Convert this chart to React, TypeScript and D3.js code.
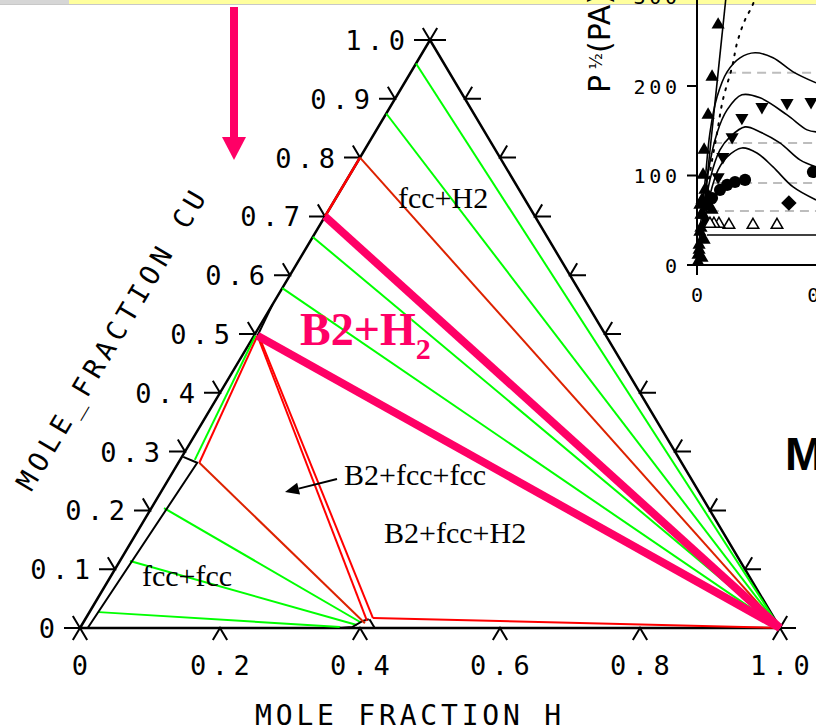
import React from 'react';
import * as d3 from 'd3';

type Pt = [number, number];

// ---------- Ternary data: points are [H fraction, Cu fraction] ----------
const H_CORNER: Pt = [1, 0];
const B2_POINT: Pt = [0.005, 0.497];
const upperGreenCu = [0.96, 0.875, 0.665, 0.578];
const pinkTieStarts: Pt[] = [[0, 0.70], B2_POINT];
const redEdgeSegment: Pt[] = [[0, 0.7], [0, 0.8]];
const darkRedLines: Pt[][] = [
  [[0, 0.8], H_CORNER],
  [[0.030, 0.281], [0.403, 0.008]],
];
const brightRedLines: Pt[][] = [
  [B2_POINT, [0.030, 0.281]],
  [B2_POINT, [0.404, 0.012]],
  [[0.007, 0.497], [0.410, 0.017]],
  [[0.410, 0.017], H_CORNER],
];
const lowerGreenLines: Pt[][] = [
  [[0.002, 0.497], [0.021, 0.286]],
  [[0.018, 0.204], [0.395, 0.0102]],
  [[0.0144, 0.114], [0.393, 0.005]],
  [[0.0136, 0.027], [0.371, 0.0017]],
];
const blackBoundaries: Pt[][] = [
  [[0.011, 0], [0.027, 0.281], [0.002, 0.291]],
  [B2_POINT, [0, 0.55]],
  [[0.371, 0], [0.388, 0.0017], [0.398, 0.012], [0.405, 0.015]],
  [[0.406, 0.015], [0.421, 0]],
];
const sideTicks = [0, 0.1, 0.2, 0.3, 0.4, 0.5, 0.6, 0.7, 0.8, 0.9, 1.0];
const sideTickLabels = ['0', '0.1', '0.2', '0.3', '0.4', '0.5', '0.6', '0.7', '0.8', '0.9', '1.0'];
const bottomTicks = [0, 0.2, 0.4, 0.6, 0.8, 1.0];
const bottomTickLabels = ['0', '0.2', '0.4', '0.6', '0.8', '1.0'];

// ---------- Inset data: [x, P^1/2] ----------
const insetCurves: Pt[][] = [
  [[0.004, 3.4], [0.011, 35.8], [0.030, 91.7], [0.049, 147.6], [0.076, 187.9], [0.114, 215.8], [0.163, 231.5], [0.220, 237.1], [0.288, 231.5], [0.364, 215.8], [0.451, 203.5]],
  [[0.004, 3.4], [0.019, 39.1], [0.042, 102.9], [0.076, 147.6], [0.114, 173.3], [0.170, 190.1], [0.239, 186.8], [0.341, 167.7], [0.417, 151.0], [0.451, 148.7]],
  [[0.004, 3.4], [0.023, 44.7], [0.049, 95.1], [0.087, 128.6], [0.125, 143.1], [0.182, 154.3], [0.239, 148.7], [0.314, 136.4], [0.390, 117.4], [0.451, 109.6]],
  [[0.004, 3.4], [0.023, 41.4], [0.049, 78.3], [0.080, 106.2], [0.114, 120.8], [0.170, 130.8], [0.227, 125.2], [0.288, 109.6], [0.364, 87.2], [0.451, 72.7]],
];
const dottedCurve: Pt[] = [[0.008, 16.8], [0.027, 55.9], [0.049, 102.9], [0.076, 147.6], [0.098, 184.5], [0.133, 221.4], [0.152, 248.3], [0.182, 274.0], [0.208, 288.5], [0.222, 300]];
const steepLine: Pt[] = [[0.004, 0], [0.110, 300]];
const solidLevel: Pt[] = [[0.038, 33.5], [0.46, 33.5]];
const dashedLevels = [214.7, 136.4, 91.7, 60.4];
const dashedStarts = [0.114, 0.061, 0.061, 0.049];
const upTriangles: Pt[] = [
  [0.080, 268.4], [0.057, 210.2], [0.042, 167.7], [0.027, 128.6], [0.023, 100.6], [0.019, 72.7], [0.015, 55.9], [0.011, 36.9], [0.008, 22.4], [0.004, 11.2],
  [0.011, 67.1], [0.023, 55.9], [0.034, 48.1], [0.015, 41.4], [0.027, 28.0], [0.008, 16.8], [0.019, 7.8], [0.004, 3.4], [0.045, 72.7], [0.030, 83.9], [0.057, 61.5],
];
const downTriangles: Pt[] = [[0.170, 164.5], [0.133, 143.1], [0.098, 120.8], [0.080, 98.4], [0.057, 76.0], [0.246, 176.7], [0.341, 181.2], [0.432, 182.3]];
const circles: Pt[] = [[0.182, 95.1], [0.144, 92.8], [0.114, 89.5], [0.087, 83.9], [0.057, 74.9], [0.034, 67.1], [0.439, 104.0]];
const diamonds: Pt[] = [[0.348, 69.3]];
const openTriangles: Pt[] = [[0.303, 44.7], [0.212, 44.7], [0.121, 44.7], [0.083, 45.9], [0.064, 45.9], [0.049, 45.9]];
const insetYTicks = [0, 100, 200, 300];
const insetYLabels = ['0', '100', '200', '300'];
const insetXTicks = [0, 0.5];
const insetXLabels = ['0', '0.5'];

const PINK = '#ff0066';
const GREEN = '#00ff00';
const RED = '#ff0000';
const DARKRED = '#dd2200';
const MONO = '"DejaVu Sans Mono", monospace';
const SERIF = '"Liberation Serif", "Times New Roman", serif';

export default function App() {
  const tx = d3.scaleLinear().domain([0, 1]).range([80, 780]);
  const ty = d3.scaleLinear().domain([0, 1]).range([628, 40]);
  const proj = (p: Pt): Pt => [tx(p[0] + p[1] / 2), ty(p[1])];
  const tline = d3.line<Pt>().x((p) => proj(p)[0]).y((p) => proj(p)[1]);

  const ix = d3.scaleLinear().domain([0, 0.5]).range([697, 829]);
  const iy = d3.scaleLinear().domain([0, 300]).range([265, -3.5]);
  const iline = d3.line<Pt>().x((p) => ix(p[0])).y((p) => iy(p[1]));
  const icurve = d3.line<Pt>().x((p) => ix(p[0])).y((p) => iy(p[1])).curve(d3.curveCatmullRom);

  const triSym = d3.symbol().type(d3.symbolTriangle).size(75)() as string;
  const openTriSym = d3.symbol().type(d3.symbolTriangle).size(58)() as string;
  const circSym = d3.symbol().type(d3.symbolCircle).size(115)() as string;
  const sqSym = d3.symbol().type(d3.symbolSquare).size(120)() as string;

  const TL = 16; // horizontal tick length
  const DL = 14; // diagonal tick length
  const dx = 0.512 * DL, dy = 0.859 * DL;

  const ls = 5.5;

  // arrow in the B2+fcc+fcc triangle
  const aFrom: Pt = [337, 479];
  const aTip: Pt = [285, 492];
  const ux = aTip[0] - aFrom[0], uy = aTip[1] - aFrom[1];
  const ul = Math.hypot(ux, uy);
  const u: Pt = [ux / ul, uy / ul];
  const base: Pt = [aTip[0] - 14 * u[0], aTip[1] - 14 * u[1]];
  const perp: Pt = [-u[1] * 6, u[0] * 6];

  return (
    <svg width={816} height={728} style={{ position: 'absolute', left: 0, top: 0, background: '#fff' }}>
      {/* top band */}
      <rect x={0} y={0} width={69} height={4} fill="#d6d6d6" />
      <rect x={69} y={0} width={747} height={4} fill="#ffff9e" />
      <line x1={0} x2={816} y1={4.5} y2={4.5} stroke="#c8c8c8" strokeWidth={1} />

      {/* pink arrow */}
      <rect x={230} y={7} width={8} height={131} fill={PINK} />
      <polygon points="222,137 246,137 234,160" fill={PINK} />

      {/* triangle edges */}
      <path d={tline([[0, 0], [1, 0], [0, 1], [0, 0]]) as string} fill="none" stroke="#000" strokeWidth={2.5} strokeLinejoin="miter" />

      {/* ticks */}
      <g stroke="#000" strokeWidth={2} fill="none">
        {sideTicks.map((c, i) => {
          const [x, y] = proj([0, c]);
          return <path key={'l' + i} d={`M${x - TL},${y}L${x},${y}L${x - dx},${y - dy}`} />;
        })}
        {sideTicks.map((c, i) => {
          const [x, y] = proj([1 - c, c]);
          return <path key={'r' + i} d={`M${x + TL},${y}L${x},${y}L${x + dx},${y - dy}`} />;
        })}
        {bottomTicks.map((h, i) => {
          const [x, y] = proj([h, 0]);
          return <path key={'b' + i} d={`M${x - dx},${y + dy}L${x},${y}L${x + dx},${y + dy}`} />;
        })}
      </g>

      {/* tick labels */}
      <g fontFamily={MONO} fontSize={27} fill="#000" letterSpacing={ls}>
        {sideTicks.map((c, i) => {
          const [x, y] = proj([0, c]);
          return (
            <text key={'lt' + i} x={x - 25 + ls} y={y + 10} textAnchor="end">
              {sideTickLabels[i]}
            </text>
          );
        })}
        {bottomTicks.map((h, i) => {
          const [x] = proj([h, 0]);
          return (
            <text key={'bt' + i} x={x + ls / 2} y={675} textAnchor="middle">
              {bottomTickLabels[i]}
            </text>
          );
        })}
      </g>

      {/* axis titles */}
      <text x={410} y={725} textAnchor="middle" fontFamily={MONO} fontSize={28} letterSpacing={3.8}>
        MOLE FRACTION H
      </text>
      <text
        x={0}
        y={0}
        transform="translate(112,338) rotate(-59.2)"
        textAnchor="middle"
        dy="0.36em"
        fontFamily={MONO}
        fontSize={27}
        letterSpacing={ls}
      >
        MOLE_FRACTION CU
      </text>

      {/* green tie lines */}
      <g stroke={GREEN} strokeWidth={2} fill="none">
        {upperGreenCu.map((c, i) => (
          <path key={'ug' + i} d={tline([[0, c], H_CORNER]) as string} />
        ))}
        {lowerGreenLines.map((l, i) => (
          <path key={'lg' + i} d={tline(l) as string} />
        ))}
      </g>

      {/* black phase boundaries */}
      <g stroke="#000" strokeWidth={2} fill="none">
        {blackBoundaries.map((l, i) => (
          <path key={'bb' + i} d={tline(l) as string} />
        ))}
      </g>

      {/* red lines */}
      <g fill="none" strokeWidth={2}>
        <path d={tline(redEdgeSegment) as string} stroke={RED} strokeWidth={2.5} />
        {darkRedLines.map((l, i) => (
          <path key={'dr' + i} d={tline(l) as string} stroke={DARKRED} />
        ))}
        {brightRedLines.map((l, i) => (
          <path key={'br' + i} d={tline(l) as string} stroke={RED} />
        ))}
      </g>

      {/* pink tie lines */}
      <g stroke={PINK} strokeWidth={8} fill="none" strokeLinecap="butt">
        {pinkTieStarts.map((p, i) => (
          <path key={'pk' + i} d={tline([p, H_CORNER]) as string} />
        ))}
      </g>

      {/* region labels */}
      <g fontFamily={SERIF} fontSize={30} fill="#000">
        <text x={398} y={208}>fcc+H2</text>
        <text x={344} y={485}>B2+fcc+fcc</text>
        <text x={384} y={543}>B2+fcc+H2</text>
        <text x={142} y={586}>fcc+fcc</text>
      </g>
      <text x={300} y={345} fontFamily={SERIF} fontWeight="bold" fontSize={46} fill={PINK}>
        B2+H<tspan fontSize={30} dy={14}>2</tspan>
      </text>

      {/* small arrow */}
      <line x1={aFrom[0]} y1={aFrom[1]} x2={base[0]} y2={base[1]} stroke="#000" strokeWidth={2} />
      <polygon
        points={`${aTip[0]},${aTip[1]} ${base[0] + perp[0]},${base[1] + perp[1]} ${base[0] - perp[0]},${base[1] - perp[1]}`}
        fill="#000"
      />

      {/* ---------- inset ---------- */}
      <g>
        {dashedLevels.map((v, i) => (
          <path
            key={'dl' + i}
            d={iline([[dashedStarts[i], v], [0.5, v]]) as string}
            stroke="#bdbdbd"
            strokeWidth={2}
            strokeDasharray="9,6"
            fill="none"
          />
        ))}
        <path d={iline(solidLevel) as string} stroke="#000" strokeWidth={1.5} fill="none" />
        {insetCurves.map((c, i) => (
          <path key={'ic' + i} d={icurve(c) as string} stroke="#000" strokeWidth={1.6} fill="none" />
        ))}
        <path d={icurve(dottedCurve) as string} stroke="#000" strokeWidth={2} strokeDasharray="2,7" strokeLinecap="round" fill="none" />
        <path d={iline(steepLine) as string} stroke="#000" strokeWidth={1.6} fill="none" />

        {upTriangles.map((p, i) => (
          <path key={'ut' + i} d={triSym} transform={`translate(${ix(p[0])},${iy(p[1])})`} fill="#000" />
        ))}
        {downTriangles.map((p, i) => (
          <path key={'dt' + i} d={triSym} transform={`translate(${ix(p[0])},${iy(p[1])}) rotate(180)`} fill="#000" />
        ))}
        {circles.map((p, i) => (
          <path key={'ci' + i} d={circSym} transform={`translate(${ix(p[0])},${iy(p[1])})`} fill="#000" />
        ))}
        {diamonds.map((p, i) => (
          <path key={'di' + i} d={sqSym} transform={`translate(${ix(p[0])},${iy(p[1])}) rotate(45)`} fill="#000" />
        ))}
        {openTriangles.map((p, i) => (
          <path key={'ot' + i} d={openTriSym} transform={`translate(${ix(p[0])},${iy(p[1])})`} fill="#fff" stroke="#000" strokeWidth={1.5} />
        ))}

        {/* inset axes */}
        <line x1={ix(0)} x2={ix(0)} y1={0} y2={270} stroke="#000" strokeWidth={2} />
        <line x1={ix(0)} x2={816} y1={iy(0)} y2={iy(0)} stroke="#000" strokeWidth={2} />
        {insetYTicks.map((v, i) => (
          <line key={'iyt' + i} x1={ix(0) - 10} x2={ix(0)} y1={iy(v)} y2={iy(v)} stroke="#000" strokeWidth={2} />
        ))}
        {insetXTicks.map((v, i) => (
          <line key={'ixt' + i} x1={ix(v)} x2={ix(v)} y1={iy(0)} y2={iy(0) + 10} stroke="#000" strokeWidth={2} />
        ))}
        <g fontFamily={MONO} fontSize={20} letterSpacing={3.7} fill="#000">
          {insetYTicks.map((v, i) => (
            <text key={'iyl' + i} x={677 + 3.7} y={iy(v) + 7.5} textAnchor="end">
              {insetYLabels[i]}
            </text>
          ))}
          {insetXTicks.map((v, i) => (
            <text key={'ixl' + i} x={ix(v) + 1.8} y={302} textAnchor="middle">
              {insetXLabels[i]}
            </text>
          ))}
        </g>
        <text transform="translate(610,93) rotate(-90)" fontFamily='"DejaVu Sans", sans-serif' fontSize={30} fill="#000">
          P
          <tspan fontSize={17} dy={-8}> ½</tspan>
          <tspan dy={8}>(PA)</tspan>
        </text>
      </g>

      <text x={785} y={470} fontFamily='"Liberation Sans", Arial, sans-serif' fontWeight="bold" fontSize={46} fill="#000">
        M
      </text>
    </svg>
  );
}
